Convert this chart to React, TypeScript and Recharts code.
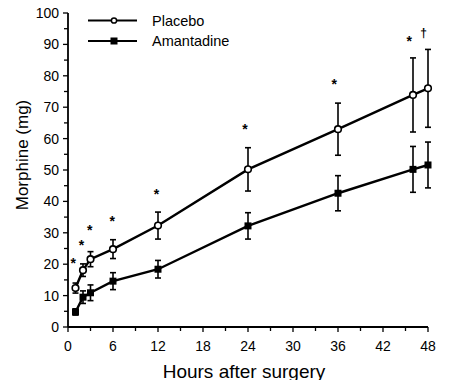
import React from "react";
import { ComposedChart, Line, Scatter, XAxis, YAxis, ErrorBar, Label } from "recharts";

const hours = [1, 2, 3, 6, 12, 24, 36, 46, 48];
const placebo = [12.4, 18.1, 21.6, 24.8, 32.3, 50.2, 63, 73.9, 76];
const placeboErr = [1.6, 2, 2.4, 3, 4.3, 6.9, 8.3, 11.8, 12.4];
const amantadine = [4.8, 9.5, 10.9, 14.6, 18.4, 32.2, 42.6, 50.2, 51.6];
const amantadineErr = [1, 2, 2.5, 2.7, 2.8, 4.2, 5.6, 7.3, 7.3];

const markHours = [0.7, 1.8, 2.9, 5.9, 11.8, 23.6, 35.5, 45.5, 47.4];
const markValues = [21, 26.8, 31.4, 34.4, 43, 63.8, 78.1, 91.6, 93.5];
const markSymbols = ["*", "*", "*", "*", "*", "*", "*", "*", "†"];

const seriesNames = ["Placebo", "Amantadine"];
const xTicks = [0, 3, 6, 9, 12, 15, 18, 21, 24, 27, 30, 33, 36, 39, 42, 45, 48];
const yTicks = [0, 5, 10, 15, 20, 25, 30, 35, 40, 45, 50, 55, 60, 65, 70, 75, 80, 85, 90, 95, 100];

const data = hours.map((h, i) => ({
  h,
  placebo: placebo[i],
  placeboErr: placeboErr[i],
  amantadine: amantadine[i],
  amantadineErr: amantadineErr[i],
}));

const marks = markHours.map((h, i) => ({ h, v: markValues[i], s: markSymbols[i] }));

const FONT = "'Liberation Sans', Arial, Helvetica, sans-serif";

const XTick = (props: any) => {
  const { x, y, payload } = props;
  const major = payload.value % 6 === 0;
  return (
    <g>
      <line x1={x} x2={x} y1={y - 8} y2={y - 8 + (major ? 5 : 4)} stroke="#000" strokeWidth={1.3} />
      {major && (
        <text x={x} y={y + 16} textAnchor="middle" fontSize={14} fontFamily={FONT} fill="#000">
          {payload.value}
        </text>
      )}
    </g>
  );
};

const YTick = (props: any) => {
  const { x, y, payload } = props;
  const major = payload.value % 10 === 0;
  return (
    <g>
      <line x1={x + 8} x2={x + 8 - (major ? 5 : 4)} y1={y} y2={y} stroke="#000" strokeWidth={1.3} />
      {major && (
        <text x={x - 1} y={y + 5} textAnchor="end" fontSize={14} fontFamily={FONT} fill="#000">
          {payload.value}
        </text>
      )}
    </g>
  );
};

const OpenDot = (props: any) => {
  const { cx, cy } = props;
  if (cx == null || cy == null) return null;
  return <circle cx={cx} cy={cy} r={3.3} fill="#fff" stroke="#000" strokeWidth={1.6} />;
};

const SquareDot = (props: any) => {
  const { cx, cy } = props;
  if (cx == null || cy == null) return null;
  return <rect x={cx - 3.5} y={cy - 3.5} width={7} height={7} fill="#000" />;
};

const MarkShape = (props: any) => {
  const { cx, cy, payload } = props;
  const dagger = payload.s === "†";
  return (
    <text x={cx} y={cy + (dagger ? 4 : 7)} textAnchor="middle" fontSize={dagger ? 12 : 14} fontWeight="bold" fontFamily={FONT} fill="#000" stroke="none">
      {payload.s}
    </text>
  );
};

const LegendBox = () => (
  <svg width={260} height={55} style={{ position: "absolute", left: 0, top: 0, display: "block" }}>
    <line x1={88} x2={137} y1={20.5} y2={20.5} stroke="#000" strokeWidth={2} />
    <circle cx={114} cy={20.5} r={2.6} fill="#fff" stroke="#000" strokeWidth={1.5} />
    <text x={152} y={25.5} fontSize={14.5} fontFamily={FONT} fill="#000">{seriesNames[0]}</text>
    <line x1={88} x2={137} y1={41} y2={41} stroke="#000" strokeWidth={2} />
    <rect x={110.5} y={37.5} width={7} height={7} fill="#000" />
    <text x={152} y={46} fontSize={14.5} fontFamily={FONT} fill="#000">{seriesNames[1]}</text>
  </svg>
);

export default function App() {
  return (
    <div style={{ width: 450, height: 388, margin: -8, background: "#fff", position: "relative" }}>
      <ComposedChart width={450} height={388} data={data} margin={{ top: 13, right: 22, left: 12, bottom: 8 }}>
        <XAxis
          dataKey="h"
          type="number"
          domain={[0, 48]}
          ticks={xTicks}
          interval={0}
          tick={<XTick />}
          tickLine={false}
          axisLine={{ stroke: "#000", strokeWidth: 1.8 }}
          height={53}
        >
          <Label
            content={(p: any) => {
              const vb = p.viewBox;
              return (
                <text x={vb.x + vb.width / 2 - 4} y={vb.y + 51} textAnchor="middle" fontSize={19} fontFamily={FONT} fill="#000">
                  Hours after surgery
                </text>
              );
            }}
          />
        </XAxis>
        <YAxis
          type="number"
          domain={[0, 100]}
          ticks={yTicks}
          interval={0}
          tick={<YTick />}
          tickLine={false}
          axisLine={{ stroke: "#000", strokeWidth: 1.8 }}
          width={56}
        >
          <Label
            content={(p: any) => {
              const vb = p.viewBox;
              const cx = vb.x + 10;
              const cy = 155;
              return (
                <text x={cx} y={cy} transform={`rotate(-90 ${cx} ${cy})`} textAnchor="middle" dominantBaseline="central" fontSize={17} fontFamily={FONT} fill="#000">
                  Morphine (mg)
                </text>
              );
            }}
          />
        </YAxis>
        <Line
          dataKey="placebo"
          name={seriesNames[0]}
          stroke="#000"
          strokeWidth={2.4}
          dot={<OpenDot />}
          activeDot={false}
          isAnimationActive={false}
        >
          <ErrorBar dataKey="placeboErr" width={3} stroke="#000" strokeWidth={1.6} direction="y" />
        </Line>
        <Line
          dataKey="amantadine"
          name={seriesNames[1]}
          stroke="#000"
          strokeWidth={2.4}
          dot={<SquareDot />}
          activeDot={false}
          isAnimationActive={false}
        >
          <ErrorBar dataKey="amantadineErr" width={3} stroke="#000" strokeWidth={1.6} direction="y" />
        </Line>
        <Scatter data={marks} dataKey="v" fill="#000" shape={<MarkShape />} isAnimationActive={false} legendType="none" />
      </ComposedChart>
      <LegendBox />
    </div>
  );
}
